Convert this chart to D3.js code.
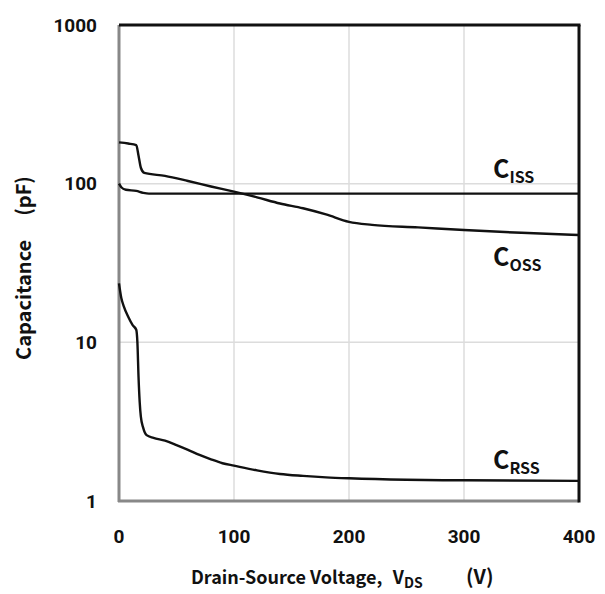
<!DOCTYPE html>
<html>
<head>
  <meta http-equiv="Content-Type" content="text/html;charset=utf-8">
  <title>Capacitance vs VDS</title>
  <script src="https://d3js.org/d3.v7.min.js"></script>
  <style type="text/css">
    body { margin: 0; background: #fff; }
    .grid line { stroke: #dcdcdc; stroke-width: 1.5px; }
    .curve { fill: none; stroke: #111; stroke-width: 2.4px; }
    .tick-label { font-family: Roboto, "Noto Sans", sans-serif; font-weight: bold; font-size: 19px; fill: #111; }
    .title { font-family: "Noto Sans CJK KR", "Noto Sans", sans-serif; font-weight: bold; fill: #111; }
    .cap { font-family: "Noto Sans CJK KR", "Noto Sans", sans-serif; font-weight: bold; fill: #111; }
  </style>
</head>
<body>
  <svg width="605" height="594"></svg>
  <script type='text/javascript'>
    // tick values
    const xTicks = [0, 100, 200, 300, 400];
    const yTicks = [1, 10, 100, 1000];

    // curves: [VDS (V), capacitance (pF)]
    const ciss = [[0, 100], [2, 95], [6, 91.5], [15, 90], [21, 87.5], [26, 86.5], [100, 86.5], [200, 86.5], [300, 86.5], [400, 86.5]];
    const coss = [[0, 182], [8, 179], [15, 175], [17, 150], [19, 126], [22, 117], [40, 112], [60, 104], [80, 96],
                  [100, 89], [120, 82], [140, 75], [160, 70], [180, 64], [200, 57.5], [220, 55], [260, 53], [300, 51],
                  [350, 49], [400, 47.5]];
    const crss = [[0, 23.5], [2, 19], [4, 17], [8, 14.5], [12, 12.8], [15, 12], [16, 10], [17, 6], [18, 4.2], [19, 3.4],
                  [21, 2.9], [24, 2.6], [30, 2.5], [40, 2.4], [50, 2.25], [60, 2.1], [70, 1.95], [80, 1.83], [90, 1.73],
                  [100, 1.67], [120, 1.56], [140, 1.48], [160, 1.44], [180, 1.41], [200, 1.39], [250, 1.36], [300, 1.35], [400, 1.34]];

    // curve labels sit at a fixed voltage next to the right edge
    const labelNames = ['ISS', 'OSS', 'RSS'];
    const labelLevels = [108, 30.3, 1.6];

    const svg = d3.select('svg');
    const pl = 119, pr = 579, pt = 25, pb = 501;

    const x = d3.scaleLinear().domain([0, 400]).range([pl, pr]);
    const y = d3.scaleLog().domain([1, 1000]).range([pb, pt]);

    // grid
    const grid = svg.append('g').attr('class', 'grid');
    grid.selectAll('.gx').data(xTicks.slice(1, -1)).enter().append('line')
      .attr('x1', d => x(d)).attr('x2', d => x(d)).attr('y1', pt).attr('y2', pb);
    grid.selectAll('.gy').data(yTicks.slice(1, -1)).enter().append('line')
      .attr('x1', pl).attr('x2', pr).attr('y1', d => y(d)).attr('y2', d => y(d));

    // frame: gray axes left/bottom, black top/right
    svg.append('line').attr('x1', pl).attr('x2', pl).attr('y1', pt).attr('y2', pb + 1)
      .attr('stroke', '#888').attr('stroke-width', 3);
    svg.append('line').attr('x1', pl - 1).attr('x2', pr).attr('y1', pb).attr('y2', pb)
      .attr('stroke', '#888').attr('stroke-width', 3);
    svg.append('line').attr('x1', pl).attr('x2', pr + 1.5).attr('y1', pt).attr('y2', pt)
      .attr('stroke', '#111').attr('stroke-width', 3);
    svg.append('line').attr('x1', pr).attr('x2', pr).attr('y1', pt).attr('y2', pb + 1.5)
      .attr('stroke', '#111').attr('stroke-width', 3);

    const line = d3.line().x(d => x(d[0])).y(d => y(d[1])).curve(d3.curveMonotoneX);
    [ciss, coss, crss].forEach(s => {
      svg.append('path').attr('class', 'curve').attr('d', line(s));
    });

    // tick labels
    svg.selectAll('.yl').data(yTicks).enter().append('text')
      .attr('class', 'tick-label')
      .attr('x', 97).attr('y', d => y(d)).attr('dy', '0.35em')
      .attr('text-anchor', 'end').text(d => d);
    svg.selectAll('.xl').data(xTicks).enter().append('text')
      .attr('class', 'tick-label')
      .attr('x', d => x(d)).attr('y', 536).attr('dy', '0.35em')
      .attr('text-anchor', 'middle').text(d => d);

    // axis titles
    const yt = svg.append('text').attr('class', 'title')
      .attr('font-size', '20px')
      .attr('transform', 'translate(31,268) rotate(-90)')
      .attr('text-anchor', 'middle');
    yt.append('tspan').text('Capacitance');
    yt.append('tspan').attr('dx', 24).text('(pF)');

    const xt = svg.append('text').attr('class', 'title')
      .attr('font-size', '18px')
      .attr('x', 191).attr('y', 584);
    xt.append('tspan').text('Drain-Source Voltage,');
    xt.append('tspan').attr('dx', 12).text('V');
    xt.append('tspan').attr('font-size', '14px').attr('dy', 4).text('DS');
    xt.append('tspan').attr('font-size', '20px').attr('x', 466).attr('dy', -4).text('(V)');

    // curve labels
    labelNames.forEach((name, i) => {
      const t = svg.append('text').attr('class', 'cap')
        .attr('x', 493).attr('y', y(labelLevels[i]));
      t.append('tspan').attr('font-size', '25px').text('C');
      t.append('tspan').attr('font-size', '16px').attr('dy', 5).text(name);
    });
  </script>
</body>
</html>
